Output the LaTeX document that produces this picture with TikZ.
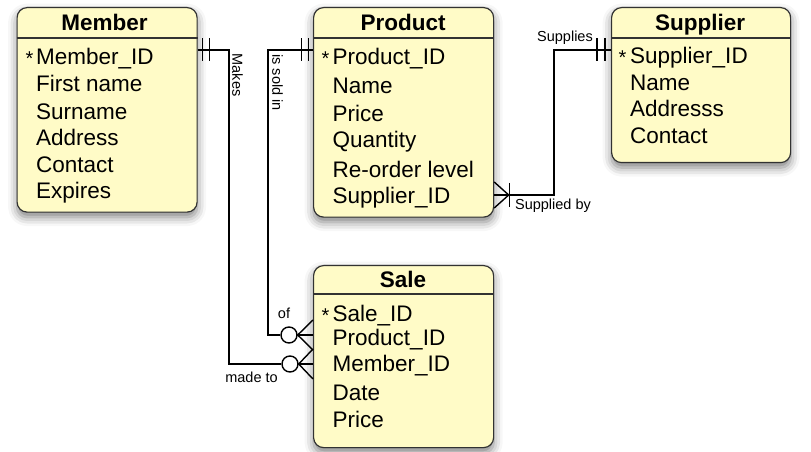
\documentclass[tikz,border=0pt]{standalone}
\usepackage{fontspec}
\setmainfont{Liberation Sans}
\usetikzlibrary{shadows.blur,calc}
\definecolor{boxfill}{RGB}{255,251,199}
\definecolor{boxborder}{RGB}{50,50,50}
\begin{document}
\begin{tikzpicture}[x=1bp,y=-1bp,
 entity/.style={draw=boxborder, line width=1.2bp, fill=boxfill, rounded corners=10bp, inner sep=0pt, anchor=north west,
   blur shadow={shadow xshift=0bp, shadow yshift=-5bp, shadow blur radius=9bp, shadow opacity=50}},
 title/.style={font=\fontsize{22.5bp}{27bp}\selectfont\bfseries, inner sep=0pt, text height=16.1bp, text depth=0pt},
 field/.style={font=\fontsize{22.5bp}{27bp}\selectfont, inner sep=0pt, text height=16.1bp, text depth=0pt, anchor=west},
 keymark/.style={font=\fontsize{20bp}{22bp}\selectfont, inner sep=0pt, anchor=base},
 rel/.style={font=\fontsize{14.5bp}{17bp}\selectfont, inner sep=0pt},
 conn/.style={line width=1.4bp, black},
 divider/.style={draw=boxborder, line width=1.2bp},
 ring/.style={circle, draw=black, line width=1.4bp, fill=white, minimum size=16bp, inner sep=0pt}
]
\useasboundingbox (0,0) rectangle (811,452);

% ---- entities ----
\node[entity, minimum width=180bp, minimum height=204.5bp] (member) at (16.5,7) {};
\node[entity, minimum width=180bp, minimum height=209.5bp] (product) at (313,7) {};
\node[entity, minimum width=179bp, minimum height=155bp] (supplier) at (611,7) {};
\node[entity, minimum width=180bp, minimum height=182bp] (sale) at (313,265) {};

\draw[divider] ($(member.north west)+(0,31)$) -- ($(member.north east)+(0,31)$);
\draw[divider] ($(product.north west)+(0,31)$) -- ($(product.north east)+(0,31)$);
\draw[divider] ($(supplier.north west)+(0,31)$) -- ($(supplier.north east)+(0,31)$);
\draw[divider] ($(sale.north west)+(0,29)$) -- ($(sale.north east)+(0,29)$);

% titles
\node[title] (tmember) at (104.5,22) {Member};
\node[title] (tproduct) at (403,22) {Product};
\node[title] (tsupplier) at (700,22) {Supplier};
\node[title] (tsale) at (403,279) {Sale};

% Member fields
\node[keymark] (km) at (29.5,66) {*};
\node[field] (m1) at (36,56) {Member\_ID};
\node[field] (m2) at (36,83) {First name};
\node[field] (m3) at (36,111) {Surname};
\node[field] (m4) at (36,137) {Address};
\node[field] (m5) at (36,164) {Contact};
\node[field] (m6) at (36,190) {Expires};

% Product fields
\node[keymark] (kp) at (325.5,66) {*};
\node[field] (p1) at (332.5,56) {Product\_ID};
\node[field] (p2) at (332.5,85) {Name};
\node[field] (p3) at (332.5,113) {Price};
\node[field] (p4) at (332.5,139) {Quantity};
\node[field] (p5) at (332.5,169) {Re-order level};
\node[field] (p6) at (332.5,195) {Supplier\_ID};

% Supplier fields
\node[keymark] (ks) at (622.5,65) {*};
\node[field] (s1) at (630,55) {Supplier\_ID};
\node[field] (s2) at (630,82) {Name};
\node[field] (s3) at (630,108) {Addresss};
\node[field] (s4) at (630,135) {Contact};

% Sale fields
\node[keymark] (ka) at (325.5,323) {*};
\node[field] (a1) at (332.5,313) {Sale\_ID};
\node[field] (a2) at (332.5,337) {Product\_ID};
\node[field] (a3) at (332.5,363) {Member\_ID};
\node[field] (a4) at (332.5,392) {Date};
\node[field] (a5) at (332.5,419) {Price};

% ---- connectors ----
\coordinate (b1) at (229,50);
\coordinate (b2) at (268,50);
\coordinate (b3) at (554,195);
\coordinate (b4) at (554,50);
\node[ring] (c1) at (289,335) {};
\node[ring] (c2) at (290,364) {};
\coordinate (e1) at (sale.west |- c1);
\coordinate (e2) at (sale.west |- c2);
\coordinate (mstart) at (member.east |- b1);
\coordinate (pstart) at (product.west |- b2);
\coordinate (pend) at (product.east |- b3);
\coordinate (send) at (supplier.west |- b4);

% Member -> Sale
\draw[conn] (mstart) -- (b1) |- (c2.west);
\draw[conn] ($(mstart)+(4.5,-11.5)$) -- ($(mstart)+(4.5,11.5)$);
\draw[conn] ($(mstart)+(11.5,-11.5)$) -- ($(mstart)+(11.5,11.5)$);
\draw[conn] (c2.east) -- (e2);
\draw[conn] ($(e2)+(0,-15)$) -- (c2.east) -- ($(e2)+(0,15)$);

% Product -> Sale
\draw[conn] (pstart) -- (b2) |- (c1.west);
\draw[conn] ($(pstart)+(-11.3,-11.5)$) -- ($(pstart)+(-11.3,11.5)$);
\draw[conn] ($(pstart)+(-4.7,-11.5)$) -- ($(pstart)+(-4.7,11.5)$);
\draw[conn] (c1.east) -- (e1);
\draw[conn] ($(e1)+(0,-15)$) -- (c1.east) -- ($(e1)+(0,15)$);

% Product -> Supplier
\draw[conn] (pend) -- (b3) -- (b4) -- (send);
\draw[conn] ($(pend)+(0,-13)$) -- ($(pend)+(14.5,0)$) -- ($(pend)+(0,13)$);
\draw[conn] ($(pend)+(15,-12)$) -- ($(pend)+(15,12.5)$);
\draw[conn] ($(send)+(-14,-11.5)$) -- ($(send)+(-14,11.5)$);
\draw[conn] ($(send)+(-6,-11.5)$) -- ($(send)+(-6,11.5)$);

% relationship labels
\node[rel, rotate=-90] (lmakes) at (237.5,75) {Makes};
\node[rel, rotate=-90] (lsold) at (277.5,82.5) {is sold in};
\node[rel] (lof) at (284,313) {of};
\node[rel] (lmade) at (251.5,377) {made to};
\node[rel] (lsupplies) at (565,38) {Supplies};
\node[rel] (lsupplied) at (553,205.5) {Supplied by};
\end{tikzpicture}
\end{document}
